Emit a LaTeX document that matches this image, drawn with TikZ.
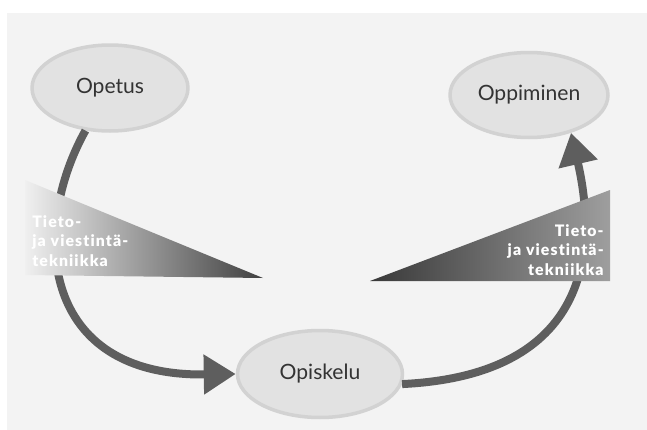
\documentclass[tikz,border=0pt]{standalone}
\usepackage{fontspec}
\setmainfont{Lato}
\usepackage{tikz}
\usetikzlibrary{shapes.geometric, arrows.meta}

\definecolor{pagegray}{HTML}{F3F3F3}
\definecolor{bubblefill}{HTML}{E2E2E2}
\definecolor{bubbleline}{HTML}{D2D2D2}
\definecolor{flowgray}{HTML}{5E5E5E}
\newfontfamily\wedgefont[LetterSpace=7, Ligatures=NoCommon]{Lato Black}

\begin{document}
\begin{tikzpicture}[x=0.02cm, y=-0.02cm,
    bubble/.style={draw=bubbleline, fill=bubblefill, ellipse, line width=2pt,
        text=black!80, font=\fontsize{12}{14}\selectfont, inner sep=0pt},
    flow/.style={draw=flowgray, line width=0.16cm,
        -{Triangle[length=0.64cm, width=0.76cm]}},
    wedgetext/.style={text=white, font=\wedgefont\fontsize{9}{10.9}\selectfont,
        inner sep=0pt}]
    \useasboundingbox (0,0) rectangle (647,430);
    \fill[white] (0,0) rectangle (647,430);
    \fill[pagegray] (7,13) rectangle (647,430);

    \node[bubble, minimum width=3.12cm, minimum height=1.72cm] at (110, 88) (opetus) {Opetus};
    \node[bubble, minimum width=3.16cm, minimum height=1.7cm] at (529, 95) (oppiminen) {Oppiminen};
    \node[bubble, minimum width=3.3cm, minimum height=1.74cm] at (320, 374) (opiskelu) {Opiskelu};

    \draw[flow] (opetus.240) .. controls (30, 230) and (40, 377) .. (opiskelu.west);
    \draw[flow] (opiskelu.-7) .. controls (590, 375) and (598, 250) .. (oppiminen.-42);

    % wedges over the arcs
    \shade[left color=black!6, right color=black!75] (25, 180) -- (263, 278) -- (25, 275) -- cycle;
    \shade[left color=black!78, right color=black!38] (370, 281) -- (610, 190) -- (610, 281) -- cycle;

    \node[wedgetext, anchor=west, align=left] at (32, 241) (lefttext) {Tieto-\\ja viestintä-\\tekniikka};
    \node[wedgetext, anchor=east, align=right] at (604, 250) (righttext) {Tieto-\\ja viestintä-\\tekniikka};
\end{tikzpicture}
\end{document}
